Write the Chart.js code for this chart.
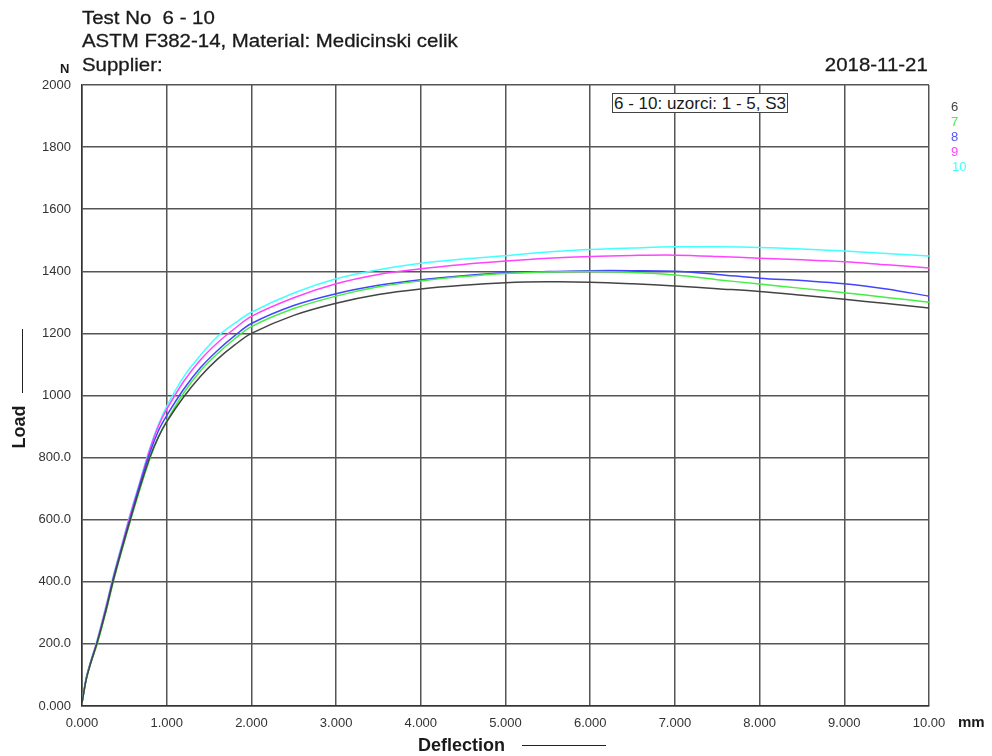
<!DOCTYPE html>
<html>
<head>
<meta charset="utf-8">
<script src="https://cdn.jsdelivr.net/npm/chart.js@4"></script>
<style>
  html,body{margin:0;padding:0;background:#fff;}
  #wrap{position:relative;width:992px;height:756px;font-family:"Liberation Sans",Arial,sans-serif;color:#1a1a1a;}
  canvas{position:absolute;left:0;top:0;}
  .t{position:absolute;white-space:pre;line-height:1;}
  .ttl{font-size:19px;transform:scaleX(1.075);transform-origin:left center;-webkit-text-stroke:0.3px #1a1a1a;}
</style>
</head>
<body>
<div id="wrap">
  <canvas id="c" width="992" height="756"></canvas>
  <div class="t ttl" style="left:82px;top:8px;">Test No  6 - 10</div>
  <div class="t ttl" style="left:82px;top:31px;">ASTM F382-14, Material: Medicinski celik</div>
  <div class="t ttl" style="left:82px;top:55px;">Supplier:</div>
  <div class="t" style="left:60px;top:62px;font-size:13px;font-weight:bold;">N</div>
  <div class="t ttl" style="right:64px;top:55px;transform-origin:right center;">2018-11-21</div>
  <div class="t" style="left:612px;top:93px;height:18px;line-height:19px;font-size:17px;border:1px solid #444;padding:0 1px;background:#fff;">6 - 10: uzorci: 1 - 5, S3</div>
  <div class="t" style="left:951px;top:100px;font-size:13px;color:#444;">6</div>
  <div class="t" style="left:951px;top:115px;font-size:13px;color:#44ee44;">7</div>
  <div class="t" style="left:951px;top:130px;font-size:13px;color:#5555ff;">8</div>
  <div class="t" style="left:951px;top:145px;font-size:13px;color:#ff44ff;">9</div>
  <div class="t" style="left:952px;top:160px;font-size:13px;color:#44ffff;">10</div>
  <div class="t" style="left:958px;top:714px;font-size:15px;font-weight:bold;">mm</div>
  <div class="t" style="left:418px;top:736px;font-size:18px;font-weight:bold;">Deflection</div>
  <div style="position:absolute;left:522px;top:745px;width:84px;height:1px;background:#222;"></div>
  <div class="t" style="left:-3px;top:418px;width:44px;text-align:center;font-size:18px;font-weight:bold;transform:rotate(-90deg);transform-origin:center;">Load</div>
  <div style="position:absolute;left:22px;top:329px;width:1px;height:64px;background:#222;"></div>
</div>
<script>
// Deflection (mm) sample positions
const deflection = [0, 0.05, 0.1, 0.18, 0.28, 0.37, 0.47, 0.57, 0.68, 0.8, 0.9, 1.0, 1.2, 1.4, 1.6, 1.8, 2.0, 2.5, 3.0, 3.5, 4.0, 4.5, 5.0, 5.5, 6.0, 6.5, 7.0, 7.5, 8.0, 8.5, 9.0, 9.5, 10.0];
// Load (N) per test
const load6  = [10, 85, 135, 205, 305, 405, 505, 600, 700, 800, 865, 915, 995, 1062, 1117, 1162, 1200, 1258, 1297, 1325, 1343, 1355, 1363, 1366, 1365, 1360, 1353, 1344, 1335, 1323, 1310, 1296, 1282];
const load7  = [10, 85, 135, 200, 300, 400, 500, 595, 695, 795, 865, 918, 1008, 1080, 1135, 1182, 1222, 1280, 1320, 1350, 1369, 1383, 1393, 1398, 1399, 1396, 1388, 1373, 1359, 1345, 1331, 1316, 1300];
const load8  = [10, 88, 138, 205, 308, 410, 510, 605, 710, 815, 885, 935, 1020, 1090, 1145, 1192, 1232, 1290, 1328, 1355, 1373, 1386, 1395, 1399, 1402, 1402, 1400, 1390, 1378, 1370, 1360, 1343, 1320];
const load9  = [10, 90, 140, 210, 315, 415, 515, 615, 715, 825, 900, 955, 1045, 1115, 1170, 1215, 1255, 1315, 1360, 1390, 1408, 1422, 1433, 1442, 1448, 1451, 1452, 1448, 1442, 1437, 1431, 1421, 1411];
const load10 = [10, 92, 142, 215, 320, 420, 520, 620, 720, 830, 905, 965, 1060, 1130, 1190, 1232, 1268, 1330, 1376, 1405, 1426, 1440, 1450, 1462, 1470, 1475, 1479, 1479, 1477, 1472, 1465, 1457, 1449];
const seriesNames = ['6', '7', '8', '9', '10'];
const seriesColors = ['#444444', '#44ee44', '#4444ff', '#ff44ff', '#44ffff'];
const yTicks = [0, 200, 400, 600, 800, 1000, 1200, 1400, 1600, 1800, 2000];
const xTicks = [0, 1, 2, 3, 4, 5, 6, 7, 8, 9, 10];

const allLoads = [load6, load7, load8, load9, load10];
const datasets = allLoads.map((arr, i) => ({
  label: seriesNames[i],
  data: deflection.map((x, j) => ({x: x, y: arr[j]})),
  borderColor: seriesColors[i],
  borderWidth: 1.5,
  pointRadius: 0,
  tension: 0.35,
  fill: false
}));

const fmt = v => Number(v).toPrecision(4);
const gridCol = '#555555';

new Chart(document.getElementById('c'), {
  type: 'line',
  data: {datasets: datasets},
  options: {
    responsive: false,
    animation: false,
    layout: {padding: {left: 0, right: 63, top: 85, bottom: 0}},
    plugins: {legend: {display: false}, tooltip: {enabled: false}},
    scales: {
      x: {
        type: 'linear', min: 0, max: 10,
        afterBuildTicks: s => { s.ticks = xTicks.map(v => ({value: v})); },
        afterFit: s => { s.height = 50; },
        grid: {color: gridCol, lineWidth: 1.5, drawTicks: false},
        border: {color: '#333', width: 1.5},
        ticks: {callback: v => fmt(v), font: {family: 'Liberation Sans', size: 13}, color: '#333', padding: 10, maxRotation: 0}
      },
      y: {
        type: 'linear', min: 0, max: 2000,
        afterBuildTicks: s => { s.ticks = yTicks.map(v => ({value: v})); },
        afterFit: s => { s.width = 82; },
        grid: {color: gridCol, lineWidth: 1.5, drawTicks: false},
        border: {color: '#333', width: 1.5},
        ticks: {callback: v => fmt(v), font: {family: 'Liberation Sans', size: 13}, color: '#333', padding: 11}
      }
    }
  }
});
</script>
</body>
</html>
